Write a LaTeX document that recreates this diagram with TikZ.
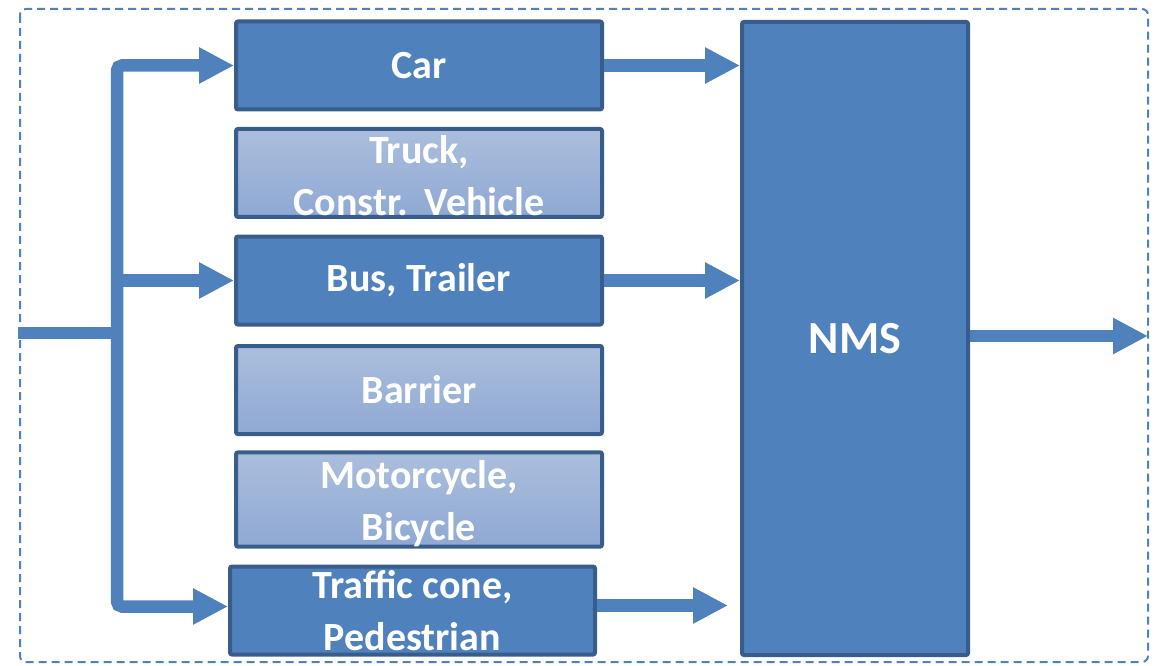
\documentclass[tikz,border=0pt]{standalone}
\usepackage{fontspec}
\setmainfont{Carlito}
\usetikzlibrary{arrows.meta}
\definecolor{mainblue}{HTML}{4F81BD}
\definecolor{edgeblue}{HTML}{385D8A}
\definecolor{lighttop}{HTML}{ABBEDC}
\definecolor{lightbot}{HTML}{8FA9D4}
\begin{document}
\begin{tikzpicture}[x=1pt,y=-1pt,
  classbox/.style={draw=edgeblue, line width=4pt, rounded corners=2pt, fill=mainblue,
    text=white, font=\fontsize{40}{52}\selectfont\bfseries, align=center,
    inner sep=0pt, minimum width=366pt, minimum height=88pt},
  lightbox/.style={classbox, top color=lighttop, bottom color=lightbot},
  flow/.style={draw=mainblue, line width=12.5pt, -{Triangle[length=35pt,width=34pt]}},
  flowline/.style={draw=mainblue, line width=12.5pt},
  frame/.style={draw=mainblue, line width=2pt, dash pattern=on 8pt off 5pt, rounded corners=6pt}
]
\useasboundingbox (0,0) rectangle (1171,666);
\draw[frame] (20,9) rectangle (1148,662);

\node[classbox] (car) at (419,65.5) {Car};
\node[lightbox] (truck) at (419,173) {\rule{0pt}{34pt}Truck,\\Constr.\hspace{4pt} Vehicle};
\node[classbox] (bus) at (419,280.5) {Bus, Trailer};
\node[lightbox] (barrier) at (419,390) {Barrier};
\node[lightbox] (moto) at (419,499.5) {\rule{0pt}{36pt}Motorcycle,\\Bicycle};
\node[classbox, minimum width=365pt] (cone) at (412.5,610.5) {Traffic cone,\\Pedestrian};
\node[classbox, minimum width=226pt, minimum height=633pt,
  font=\fontsize{46}{55}\selectfont\bfseries] (nms) at (855,338.5) {NMS};

\coordinate (in) at (18,333);
\coordinate (j) at (117,333);
\coordinate (out) at (1148,336);

\draw[flowline] (in) -- (j);
\draw[flow, rounded corners=5pt] (j) |- (car.west);
\draw[flow] (j |- bus.west) -- (bus.west);
\draw[flow, rounded corners=5pt] (j) |- ([yshift=4pt]cone.west);

\draw[flow] (car.east) -- (car.east -| nms.west);
\draw[flow] (bus.east) -- (bus.east -| nms.west);
\draw[flow, shorten >=12pt] ([yshift=5pt]cone.east) -- ([yshift=5pt]cone.east -| nms.west);
\draw[flow] (nms.east |- out) -- (out);
\end{tikzpicture}
\end{document}
